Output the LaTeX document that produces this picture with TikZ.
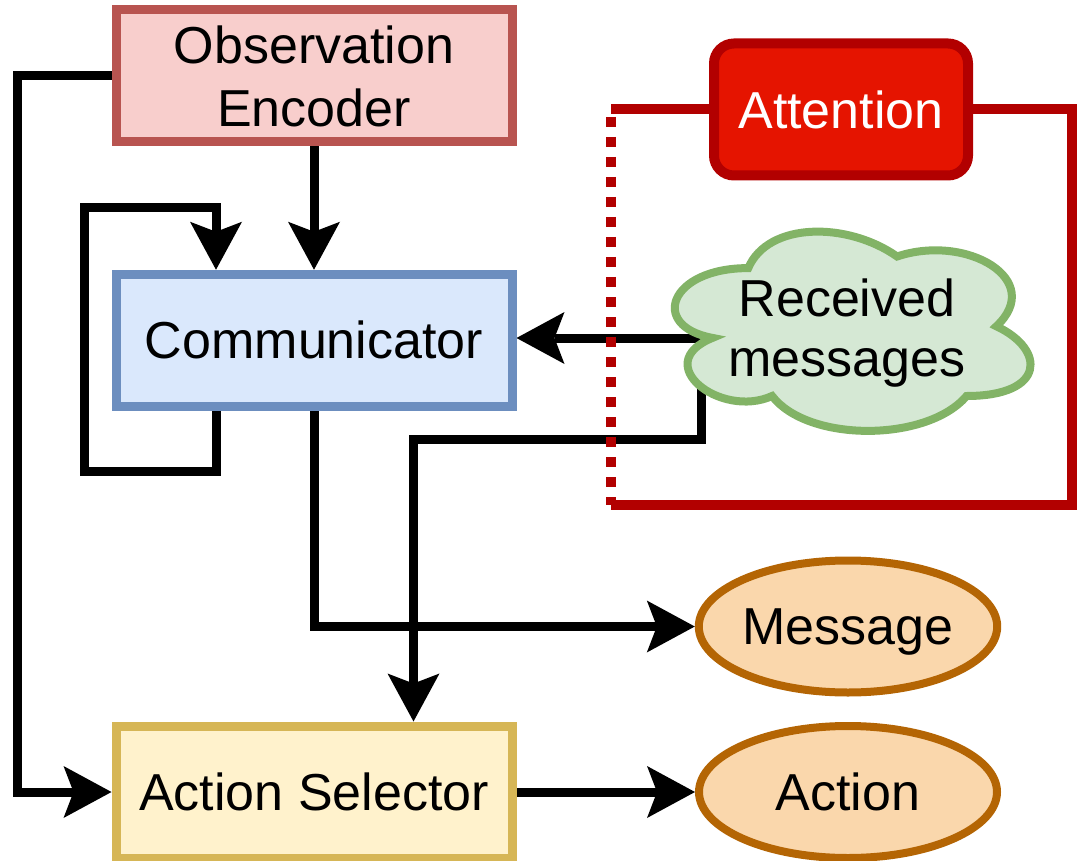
\documentclass[tikz,border=0pt]{standalone}
\usepackage{fontspec}
\setmainfont{Liberation Sans}
\usetikzlibrary{arrows.meta,shapes.geometric}
\pgfdeclarelayer{bg}
\pgfsetlayers{bg,main}
\definecolor{obsF}{HTML}{F8CECC}
\definecolor{obsD}{HTML}{B85450}
\definecolor{comF}{HTML}{DAE8FC}
\definecolor{comD}{HTML}{6C8EBF}
\definecolor{asF}{HTML}{FFF2CC}
\definecolor{asD}{HTML}{D6B656}
\definecolor{attF}{HTML}{E51400}
\definecolor{attD}{HTML}{B20000}
\definecolor{cloudF}{HTML}{D5E8D4}
\definecolor{cloudD}{HTML}{82B366}
\definecolor{ellF}{HTML}{FAD7AC}
\definecolor{ellD}{HTML}{B46504}
\begin{document}
\begin{tikzpicture}[x=0.5pt,y=-0.5pt,
  box/.style={draw, rectangle, line width=4.5pt, minimum width=198pt, minimum height=66pt,
    inner sep=0pt, align=center, font=\fontsize{26pt}{31.5pt}\selectfont},
  ell/.style={draw=ellD, fill=ellF, ellipse, line width=4pt, minimum width=149pt,
    minimum height=66pt, inner sep=0pt, text depth=0pt, font=\fontsize{26pt}{31.5pt}\selectfont},
  conn/.style={line width=4.5pt, black},
  arr/.style={conn, -{Stealth[length=24pt,width=26pt,inset=5pt,line width=0pt]}},
  redl/.style={line width=5pt, attD},
  reddot/.style={line width=5pt, attD, dash pattern=on 5pt off 5pt},
]
\useasboundingbox (0,0) rectangle (1081,861);

% nodes
\node[box, draw=obsD, fill=obsF] (obs) at (314,76) {Observation\\Encoder};
\node[box, draw=comD, fill=comF] (comm) at (314,340.25) {Communicator};
\node[box, draw=asD, fill=asF] (as) at (314,792) {Action Selector};
\node[box, draw=attD, fill=attF, text=white, minimum width=127pt, line width=5pt,
      rounded corners=10pt] (att) at (841,109.5) {Attention};
\node[ell] (msg) at (848,626.5) {Message};
\node[ell] (act) at (848,792) {Action};

% cloud
\draw[draw=cloudD, fill=cloudF, line width=4pt]
  (748.25,268.1) .. controls (668.85,268.1) and (649,326.25) .. (712.5,337.9)
  .. controls (649,363.45) and (720.5,419.25) .. (772.1,396)
  .. controls (807.8,442.5) and (926.9,442.5) .. (966.6,396)
  .. controls (1046,396) and (1046,349.5) .. (996.4,326.25)
  .. controls (1046,279.75) and (966.6,233.25) .. (897.1,256.5)
  .. controls (847.5,221.6) and (768.1,221.6) .. (748.25,268.1) -- cycle;
\node[align=center, inner sep=0pt, font=\fontsize{26pt}{30pt}\selectfont] (rm) at (847,333.5) {Received\\messages};

% helper coordinates
\coordinate (rmL) at (720,338);
\coordinate (rmB) at (701,385);
\coordinate (lft) at (17.7,0);
\coordinate (loopR) at (216,0);
\coordinate (asx) at (413.5,0);

% connectors
\begin{pgfonlayer}{bg}
\draw[arr] (obs.south) -- (comm.north);
\draw[arr] (obs.west) -- (obs.west -| lft) |- (as.west);
\draw[arr] (comm.south -| loopR) -- (216,471) -- (84,471) -- (84,208) -- (216,208) -- (comm.north -| loopR);
\draw[arr] (comm.south) |- (msg.west);
\draw[arr] (rmL) -- (comm.east |- rmL);
\draw[arr] (rmB) -- (701,439.5) -- (413.5,439.5) -- (as.north -| asx);
\draw[arr] (as.east) -- (act.west);
\end{pgfonlayer}

% attention frame
\draw[redl] (att.west) -- (610.5,109.5);
\draw[reddot] (610.5,117) -- (610.5,505);
\draw[redl] (610.5,505) -- (1072,505) -- (1072,109.5) -- (att.east);
\end{tikzpicture}
\end{document}
